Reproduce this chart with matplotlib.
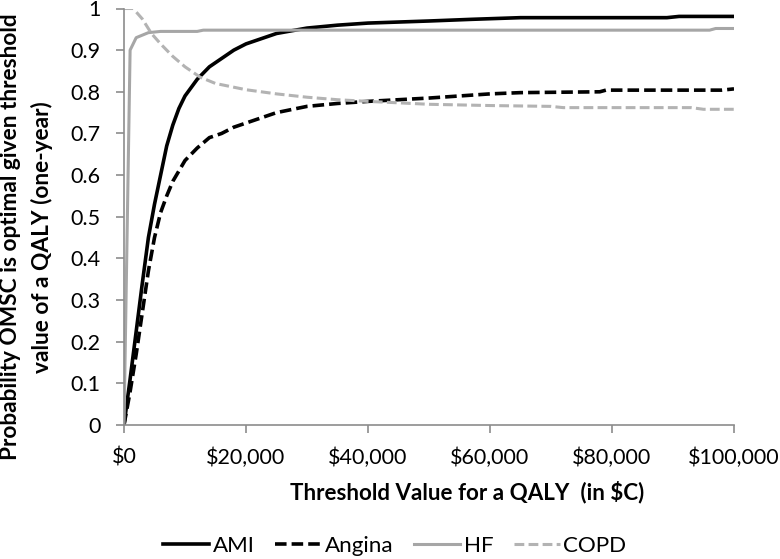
import matplotlib
matplotlib.use("Agg")
import matplotlib.pyplot as plt
from matplotlib.ticker import FuncFormatter, MultipleLocator
from matplotlib.lines import Line2D

plt.rcParams['font.family'] = ['Lato', 'DejaVu Sans']

# ---- data (threshold in $C, probability OMSC optimal) ----
x_main = [0, 1000, 2000, 3000, 4000, 5000, 6000, 7000, 8000, 9000, 10000, 12000, 14000,
          16000, 18000, 20000, 22000, 25000, 30000, 35000, 40000, 50000, 57000, 65000,
          89000, 91000, 100000]
ami = [0, 0.11, 0.225, 0.34, 0.45, 0.53, 0.60, 0.67, 0.72, 0.76, 0.79, 0.83, 0.86,
       0.88, 0.90, 0.915, 0.925, 0.94, 0.953, 0.96, 0.965, 0.970, 0.974, 0.978,
       0.978, 0.981, 0.981]
x_ang = [0, 1000, 2000, 3000, 4000, 5000, 6000, 7000, 8000, 9000, 10000, 12000, 14000,
         16000, 18000, 20000, 22000, 25000, 30000, 35000, 40000, 50000, 60000, 65000,
         78000, 79000, 98000, 100000]
angina = [0, 0.08, 0.17, 0.27, 0.37, 0.45, 0.51, 0.55, 0.585, 0.61, 0.635, 0.665, 0.69,
          0.70, 0.715, 0.725, 0.735, 0.75, 0.765, 0.772, 0.777, 0.785, 0.795, 0.798,
          0.800, 0.804, 0.804, 0.807]
x_hf = [0, 1000, 2000, 4000, 6000, 12000, 13000, 96000, 97000, 100000]
hf = [0, 0.90, 0.93, 0.942, 0.945, 0.945, 0.948, 0.948, 0.952, 0.952]
x_copd = [0, 1500, 3000, 4500, 6000, 8000, 10000, 12500, 15000, 20000, 25000, 30000,
          35000, 40000, 50000, 60000, 70000, 72000, 93000, 95000, 100000]
copd = [1.0, 1.0, 0.975, 0.94, 0.915, 0.885, 0.86, 0.835, 0.82, 0.805, 0.795, 0.787,
        0.781, 0.777, 0.77, 0.767, 0.765, 0.762, 0.762, 0.758, 0.758]

series_names = ['AMI', 'Angina', 'HF', 'COPD']
x_ticks_max = 100000
x_label = 'Threshold Value for a QALY  (in $C)'
y_label_lines = ['Probability OMSC is optimal given threshold', 'value of a QALY (one-year)']

W, H = 780, 559
fig = plt.figure(figsize=(W / 100, H / 100), dpi=100)
renderer = fig.canvas.get_renderer()


def fit_size(text, target_px, weight='normal'):
    t = fig.text(0, 0, text, fontsize=10, fontweight=weight)
    w = t.get_window_extent(renderer=renderer).width
    t.remove()
    return 10 * target_px / w


def px(x, y):
    return x / W, 1 - y / H


ax_left, ax_right, ax_top, ax_bot = 124, 734, 8.5, 425
ax = fig.add_axes([ax_left / W, 1 - ax_bot / H, (ax_right - ax_left) / W, (ax_bot - ax_top) / H])

dash = (0, (3.2, 1.4))
l1, = ax.plot(x_main, ami, color='black', lw=2.6, label=series_names[0])
l2, = ax.plot(x_ang, angina, color='black', lw=2.6, ls=dash, label=series_names[1])
l3, = ax.plot(x_hf, hf, color='#a6a6a6', lw=2.2, label=series_names[2])
l4, = ax.plot(x_copd, copd, color='#b3b3b3', lw=2.2, ls=dash, label=series_names[3])

ax.set_xlim(0, x_ticks_max)
ax.set_ylim(0, 1)
ax.xaxis.set_major_locator(MultipleLocator(20000))
ax.yaxis.set_major_locator(MultipleLocator(0.1))
ax.xaxis.set_major_formatter(FuncFormatter(lambda v, p: f"${int(round(v)):,}"))
ax.yaxis.set_major_formatter(FuncFormatter(lambda v, p: f"{round(v, 1):g}"))

for s in ['top', 'right']:
    ax.spines[s].set_visible(False)
for s in ['left', 'bottom']:
    ax.spines[s].set_color('#8c8c8c')
    ax.spines[s].set_linewidth(1.2)

tick_fs = fit_size('$100,000', 92)
ax.tick_params(axis='both', colors='#8c8c8c', labelcolor='black', labelsize=tick_fs,
               length=6, width=1.2, direction='out')
ax.tick_params(axis='y', pad=11)
ax.tick_params(axis='x', pad=10)

# axis titles
xl_fs = fit_size(x_label, 355, 'bold')
fig.text(*px(467, 499), x_label, fontsize=xl_fs, fontweight='bold',
         ha='center', va='baseline')

yl_fs = fit_size(y_label_lines[0], 448, 'bold')
fig.text(*px(17, 237), y_label_lines[0], fontsize=yl_fs, fontweight='bold',
         rotation=90, rotation_mode='anchor', ha='center', va='baseline')
fig.text(*px(49, 237), y_label_lines[1], fontsize=yl_fs, fontweight='bold',
         rotation=90, rotation_mode='anchor', ha='center', va='baseline')

# legend
leg_fs = fit_size('Angina', 68)
em = leg_fs * 100 / 72
fig.legend(handles=[l1, l2, l3, l4], loc='center', bbox_to_anchor=px(395, 546), ncol=4,
           frameon=False, fontsize=leg_fs, handlelength=46 / em, handletextpad=4 / em,
           columnspacing=20 / em, borderpad=0, borderaxespad=0)

fig.savefig('out.png', dpi=100)
